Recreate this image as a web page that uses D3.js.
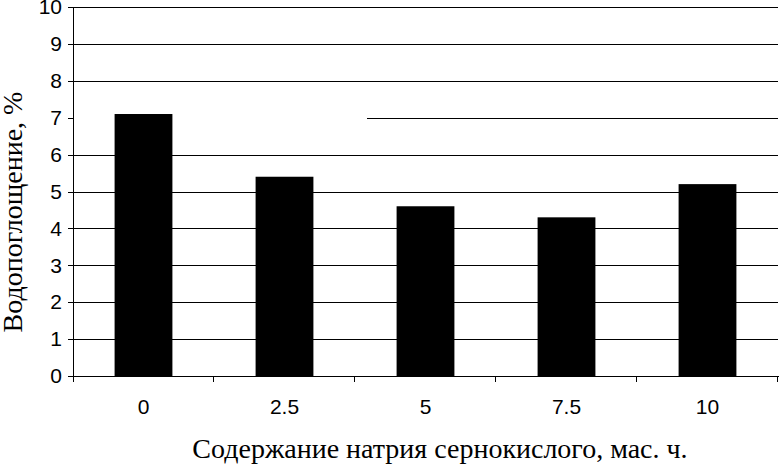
<!DOCTYPE html>
<html>
<head>
<meta charset="utf-8">
<script src="https://cdn.jsdelivr.net/npm/d3@7"></script>
<style>
  body { margin: 0; background: #fff; }
  svg { display: block; }
</style>
</head>
<body>
<div id="chart"></div>
<script>
const categories = ["0", "2.5", "5", "7.5", "10"];
const values = [7.1, 5.4, 4.6, 4.3, 5.2];
const yTicks = [0, 1, 2, 3, 4, 5, 6, 7, 8, 9, 10];

const width = 779, height = 464;
const margin = {top: 7, right: 1, bottom: 88, left: 73};

const svg = d3.select("#chart").append("svg")
    .attr("width", width)
    .attr("height", height);

const x = d3.scaleBand()
    .domain(categories)
    .range([margin.left, width - margin.right])
    .padding(0);

const y = d3.scaleLinear()
    .domain([0, 10])
    .range([height - margin.bottom, margin.top]);

// gridlines (the one at 7 only starts partway across, as in the source)
const grid = svg.append("g")
    .attr("transform", "translate(" + margin.left + ",0)")
    .call(d3.axisRight(y).tickValues(yTicks.filter(d => d > 0))
        .tickSize(width - margin.right - margin.left).tickFormat(""));
grid.select(".domain").remove();
grid.selectAll(".tick line")
    .attr("stroke", "#000")
    .attr("shape-rendering", "crispEdges")
    .attr("x1", d => d === 7 ? 294 : 0);

// bars
const barW = x.bandwidth() * 0.41;
svg.append("g")
    .selectAll("rect")
    .data(values)
    .join("rect")
    .attr("x", (d, i) => x(categories[i]) + (x.bandwidth() - barW) / 2)
    .attr("y", d => y(d))
    .attr("width", barW)
    .attr("height", d => y(0) - y(d))
    .attr("fill", "#000");

// y axis
const yAxis = svg.append("g")
    .attr("transform", "translate(" + margin.left + ",0)")
    .call(d3.axisLeft(y).tickValues(yTicks).tickSize(5).tickPadding(6));
yAxis.selectAll("path, line").attr("stroke", "#000").attr("shape-rendering", "crispEdges");
yAxis.selectAll("text")
    .attr("font-family", "'Liberation Sans', Arial, sans-serif")
    .attr("font-size", 21)
    .attr("fill", "#000");

// x axis
const xAxis = svg.append("g")
    .attr("transform", "translate(0," + y(0) + ")")
    .call(d3.axisBottom(x).tickSize(0).tickPadding(23));
xAxis.select(".domain").attr("stroke", "#000").attr("shape-rendering", "crispEdges");
xAxis.selectAll("text")
    .attr("font-family", "'Liberation Sans', Arial, sans-serif")
    .attr("font-size", 21)
    .attr("fill", "#000");

// boundary ticks between categories
const bounds = categories.map(c => x(c) + x.bandwidth());
xAxis.selectAll(".bound")
    .data(bounds)
    .join("line")
    .attr("class", "bound")
    .attr("x1", d => d - 0.5)
    .attr("x2", d => d - 0.5)
    .attr("y1", 0)
    .attr("y2", 6)
    .attr("stroke", "#000")
    .attr("shape-rendering", "crispEdges");
xAxis.append("line")
    .attr("x1", margin.left)
    .attr("x2", margin.left)
    .attr("y1", 0)
    .attr("y2", 6)
    .attr("stroke", "#000")
    .attr("shape-rendering", "crispEdges");

// axis titles
svg.append("text")
    .attr("x", 440)
    .attr("y", 458)
    .attr("text-anchor", "middle")
    .attr("font-family", "'Liberation Serif', 'Times New Roman', serif")
    .attr("font-size", 28)
    .attr("fill", "#000")
    .text("Содержание натрия сернокислого, мас. ч.");

svg.append("text")
    .attr("transform", "translate(22,212) rotate(-90)")
    .attr("text-anchor", "middle")
    .attr("font-family", "'Liberation Serif', 'Times New Roman', serif")
    .attr("font-size", 28)
    .attr("fill", "#000")
    .text("Водопоглощение, %");
</script>
</body>
</html>
